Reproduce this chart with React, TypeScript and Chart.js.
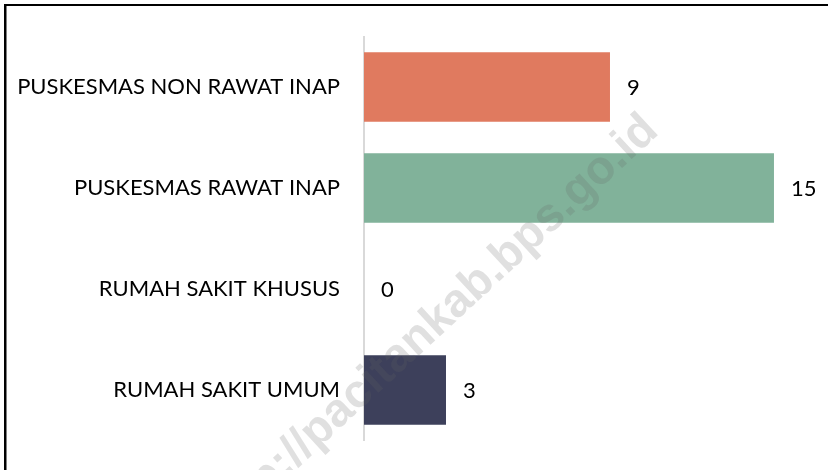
import React, { useEffect, useRef } from 'react';
import { Chart, registerables } from 'chart.js';

Chart.register(...registerables);

const categories = [
  'PUSKESMAS NON RAWAT INAP',
  'PUSKESMAS RAWAT INAP',
  'RUMAH SAKIT KHUSUS',
  'RUMAH SAKIT UMUM',
];
const values = [9, 15, 0, 3];
const barColors = ['#E07A5F', '#81B29A', '#F2CC8F', '#3D405B'];
const xMax = 16;
const watermarkText = 'http://pacitankab.bps.go.id';

const FONT = 'Lato';
const FONT_SIZE = 22;

const valueLabels = {
  id: 'valueLabels',
  afterDatasetsDraw(chart: any) {
    const ctx = chart.ctx;
    const meta = chart.getDatasetMeta(0);
    ctx.save();
    ctx.font = `${FONT_SIZE}px ${FONT}`;
    ctx.fillStyle = '#000000';
    ctx.textAlign = 'left';
    ctx.textBaseline = 'middle';
    meta.data.forEach((bar: any, i: number) => {
      ctx.fillText(String(values[i]), bar.x + 17, bar.y + 1);
    });
    ctx.restore();
  },
};

const frame = {
  id: 'frame',
  beforeDraw(chart: any) {
    const ctx = chart.ctx;
    ctx.save();
    ctx.fillStyle = '#ffffff';
    ctx.fillRect(0, 0, chart.width, chart.height);
    ctx.fillStyle = '#000000';
    ctx.fillRect(4, 4, 2.5, chart.height);
    ctx.fillRect(4, 4, chart.width, 2);
    ctx.restore();
  },
};

const watermark = {
  id: 'watermark',
  afterDraw(chart: any) {
    const ctx = chart.ctx;
    ctx.save();
    ctx.translate(660, 133);
    ctx.rotate((-42.7 * Math.PI) / 180);
    ctx.font = 'bold 47px "Liberation Sans"';
    ctx.fillStyle = 'rgba(100,100,100,0.2)';
    ctx.textAlign = 'right';
    ctx.textBaseline = 'alphabetic';
    ctx.fillText(watermarkText, 0, 0);
    ctx.restore();
  },
};

export default function App() {
  const ref = useRef<HTMLCanvasElement | null>(null);

  useEffect(() => {
    if (!ref.current) return;
    const chart = new Chart(ref.current, {
      type: 'bar',
      data: {
        labels: categories,
        datasets: [
          {
            data: values,
            backgroundColor: barColors,
            barPercentage: 0.69,
            categoryPercentage: 1,
          },
        ],
      },
      options: {
        indexAxis: 'y',
        animation: false,
        responsive: false,
        layout: { padding: { top: 36.5, bottom: 29.5, right: 26.7, left: 0 } },
        plugins: { legend: { display: false }, tooltip: { enabled: false } },
        scales: {
          x: {
            display: false,
            min: 0,
            max: xMax,
          },
          y: {
            grid: { display: false, drawTicks: false },
            border: { display: true, color: '#d9d9d9', width: 2 },
            ticks: {
              color: '#000000',
              padding: 24,
              font: { family: FONT, size: FONT_SIZE },
            },
            afterFit: (scale: any) => {
              scale.width = 364;
              scale.paddingTop = 0;
              scale.paddingBottom = 0;
            },
          },
        },
      },
      plugins: [frame, valueLabels, watermark],
    });
    return () => chart.destroy();
  }, []);

  return (
    <div style={{ position: 'fixed', left: 0, top: 0, width: 828, height: 470 }}>
      <canvas ref={ref} width={828} height={470} style={{ display: 'block' }} />
    </div>
  );
}
